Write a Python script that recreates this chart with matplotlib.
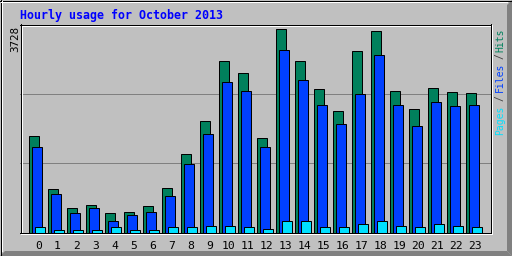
import matplotlib
matplotlib.use("Agg")
import matplotlib.pyplot as plt
from matplotlib.lines import Line2D
from matplotlib.patches import Polygon
import numpy as np

# ---- data ----
hours = [str(h) for h in range(24)]
hits = [1763, 790, 441, 496, 349, 367, 477, 808, 1432, 2038, 3140, 2919,
        1726, 3728, 3140, 2625, 2222, 3323, 3690, 2589, 2258, 2644, 2570, 2552]
files = [1561, 698, 349, 441, 220, 312, 367, 661, 1249, 1800, 2754, 2589,
         1561, 3342, 2791, 2332, 1983, 2534, 3250, 2332, 1946, 2387, 2313, 2332]
pages = [92, 55, 37, 55, 110, 37, 55, 92, 92, 128, 128, 110,
         73, 202, 202, 110, 92, 165, 202, 128, 110, 147, 128, 92]
title = "Hourly usage for October 2013"
max_label = "3728"

W, H = 512, 256
BG = "#C0C0C0"
C_HITS, C_FILES, C_PAGES = "#00805C", "#0040FF", "#00E0FF"
MONO = "DejaVu Sans Mono"

fig = plt.figure(figsize=(W / 100, H / 100), dpi=100, facecolor=BG)

def fx(x):
    return x / W

def fy(y):
    return 1 - y / H

# outer bevel
fig.add_artist(Polygon([[fx(512), fy(0)], [fx(507), fy(5)], [fx(507), fy(251)], [fx(512), fy(256)]],
                       closed=True, transform=fig.transFigure, facecolor="#808080", edgecolor="none"))
fig.add_artist(Polygon([[fx(0), fy(256)], [fx(5), fy(251)], [fx(507), fy(251)], [fx(512), fy(256)]],
                       closed=True, transform=fig.transFigure, facecolor="#808080", edgecolor="none"))

def hline(row, x0, x1, color, z=3):
    fig.add_artist(Line2D([fx(x0), fx(x1)], [fy(row + 0.5), fy(row + 0.5)], transform=fig.transFigure,
                          color=color, lw=0.72, antialiased=False, zorder=z, solid_capstyle="butt"))

def vline(col, y0, y1, color, z=3):
    fig.add_artist(Line2D([fx(col + 0.5), fx(col + 0.5)], [fy(y0), fy(y1)], transform=fig.transFigure,
                          color=color, lw=0.72, antialiased=False, zorder=z, solid_capstyle="butt"))

# outer frame top/left
hline(0, 0, 512, "black"); vline(0, 0, 256, "black")
hline(1, 1, 507, "white"); vline(1, 1, 251, "white")

# axes region
ax_l, ax_r, ax_t, ax_b = 20, 491, 24, 232.5
ax = fig.add_axes([fx(ax_l), fy(ax_b), (ax_r - ax_l) / W, (ax_b - ax_t) / H])
ax.set_facecolor("none")
for s in ax.spines.values():
    s.set_visible(False)

x = np.arange(len(hours))
ymax = max(hits) * 1.026
ax.set_xlim(-0.49, 24.30)
ax.set_ylim(0, ymax)

for f in (1 / 3, 2 / 3):
    ax.plot([0, 1], [f, f], transform=ax.transAxes, color="#808080", lw=0.72, zorder=0.5,
            antialiased=False)

bw = 0.5
kw = dict(width=bw, align="edge", edgecolor="black", linewidth=0.72, zorder=2)
ax.bar(x, hits, color=C_HITS, **kw)
ax.bar(x + 0.158, files, color=C_FILES, **kw)
ax.bar(x + 0.316, pages, color=C_PAGES, **kw)

ax.set_xticks([])
ax.set_yticks([])
tr = ax.get_xaxis_transform()
for i, lab in enumerate(hours):
    ax.text(i + 0.474, (ax_b - 249.3) / (ax_b - ax_t), lab, transform=tr, ha="center", va="baseline",
            fontsize=8.2, family=MONO, color="black", clip_on=False)

# inner frame
hline(25, 21, 492, "white"); vline(491, 25, 234, "white")
hline(233, 21, 492, "white"); vline(21, 25, 234, "white")
hline(24, 20, 491, "black"); hline(232, 20, 491, "black")
vline(20, 24, 233, "black"); vline(490, 24, 233, "black")

# title
fig.text(fx(20), fy(19), title, ha="left", va="baseline", fontsize=8.4, family=MONO,
         fontweight="bold", color="#0000FF")

# max label
fig.text(fx(15), fy(26), max_label, rotation=90, ha="center", va="top", fontsize=7.8,
         family=MONO, color="black")

# legend (rotated, multi-colour)
legend_parts = [("Hits", C_HITS, 29), ("/", "#404040", 53), ("Files", C_FILES, 63),
                ("/", "#404040", 95), ("Pages", C_PAGES, 106)]
for txt, col, top in legend_parts:
    fig.text(fx(500), fy(top), txt, rotation=90, ha="center", va="top", fontsize=7,
             family=MONO, color=col)

fig.savefig("out.png", dpi=100, facecolor=BG)
